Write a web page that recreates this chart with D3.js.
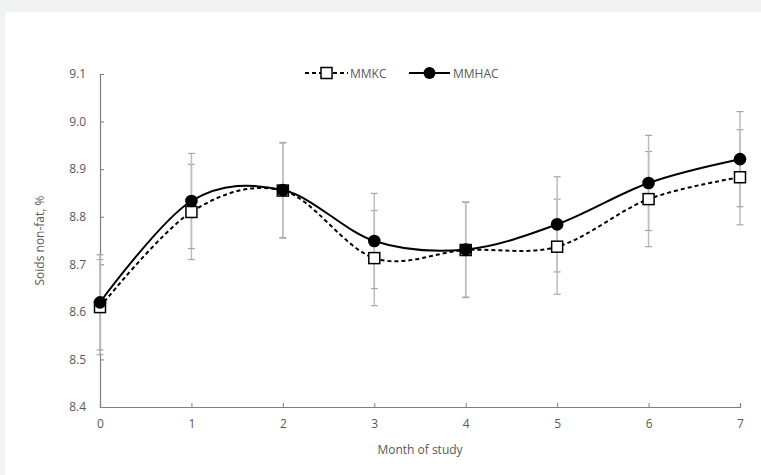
<!DOCTYPE html>
<html>
<head>
<meta charset="utf-8">
<script src="https://cdn.jsdelivr.net/npm/d3@7"></script>
<style>
  body { margin: 0; background: #f1f2f4; }
  svg { display: block; }
  text { font-family: "Open Sans", "Liberation Sans", sans-serif; fill: #595959; }
</style>
</head>
<body>
<div id="chart"></div>
<script>
// months on the x axis
var months = [0, 1, 2, 3, 4, 5, 6, 7];
// solids non-fat, %
var mmkc = [8.61, 8.81, 8.855, 8.713, 8.73, 8.737, 8.837, 8.883];
var mmhac = [8.62, 8.833, 8.856, 8.749, 8.731, 8.784, 8.871, 8.921];
// error bar half widths
var mmkcErr = [0.1, 0.1, 0.1, 0.1, 0.1, 0.1, 0.1, 0.1];
var mmhacErr = [0.1, 0.1, 0.1, 0.1, 0.1, 0.1, 0.1, 0.1];
var yTicks = [8.4, 8.5, 8.6, 8.7, 8.8, 8.9, 9.0, 9.1];

var W = 761, H = 475;
var margin = {top: 74, right: 21, bottom: 68, left: 100};

var svg = d3.select('#chart')
	.append('svg')
	.attr('width', W)
	.attr('height', H);

svg.append('rect')
	.attr('x', 0).attr('y', 0)
	.attr('width', W).attr('height', H)
	.attr('fill', '#f1f2f4');

svg.append('rect')
	.attr('x', 5).attr('y', 12)
	.attr('width', W - 5).attr('height', H - 12)
	.attr('fill', '#ffffff');

var x = d3.scaleLinear().domain([0, 7]).range([margin.left, W - margin.right]);
var y = d3.scaleLinear().domain([8.4, 9.1]).range([H - margin.bottom, margin.top]);

// axes
var xAxis = svg.append('g')
	.attr('transform', 'translate(0,' + y(8.4) + ')')
	.call(d3.axisBottom(x)
		.tickValues(months)
		.tickSize(-4)
		.tickPadding(12)
		.tickFormat(d3.format('d')));

var yAxis = svg.append('g')
	.attr('transform', 'translate(' + x(0) + ',0)')
	.call(d3.axisLeft(y)
		.tickValues(yTicks)
		.tickSize(-4)
		.tickPadding(14)
		.tickFormat(d3.format('.1f')));

[xAxis, yAxis].forEach(function(a) {
	a.select('.domain').attr('stroke', '#7f7f7f').attr('stroke-width', 1.2);
	a.selectAll('.tick line').attr('stroke', '#7f7f7f').attr('stroke-width', 1);
	a.selectAll('.tick text')
		.style('font-size', '12px')
		.attr('fill', '#595959');
});

// error bars
function drawErrors(vals, errs) {
	var g = svg.append('g');
	vals.forEach(function(v, i) {
		var cx = x(months[i]);
		g.append('line')
			.attr('x1', cx).attr('x2', cx)
			.attr('y1', y(v - errs[i])).attr('y2', y(v + errs[i]))
			.attr('stroke', '#bdbdbd').attr('stroke-width', 1.5);
		[v - errs[i], v + errs[i]].forEach(function(e) {
			g.append('line')
				.attr('x1', cx - 3.5).attr('x2', cx + 3.5)
				.attr('y1', y(e)).attr('y2', y(e))
				.attr('stroke', '#a6a6a6').attr('stroke-width', 1.2);
		});
	});
}
drawErrors(mmkc, mmkcErr);
drawErrors(mmhac, mmhacErr);

// smoothed lines
var line = d3.line()
	.x(function(d, i) { return x(months[i]); })
	.y(function(d) { return y(d); })
	.curve(d3.curveCardinal.tension(0));

svg.append('path')
	.datum(mmkc)
	.attr('d', line)
	.attr('fill', 'none')
	.attr('stroke', '#000')
	.attr('stroke-width', 2)
	.attr('stroke-dasharray', '4,3');

svg.append('path')
	.datum(mmhac)
	.attr('d', line)
	.attr('fill', 'none')
	.attr('stroke', '#000')
	.attr('stroke-width', 2);

// markers
svg.selectAll('rect.mmkc')
	.data(mmkc)
	.enter()
	.append('rect')
	.attr('class', 'mmkc')
	.attr('x', function(d, i) { return x(months[i]) - 5.5; })
	.attr('y', function(d) { return y(d) - 5.5; })
	.attr('width', 11).attr('height', 11)
	.attr('fill', '#fff')
	.attr('stroke', '#000')
	.attr('stroke-width', 1.5);

svg.selectAll('circle.mmhac')
	.data(mmhac)
	.enter()
	.append('circle')
	.attr('class', 'mmhac')
	.attr('cx', function(d, i) { return x(months[i]); })
	.attr('cy', function(d) { return y(d); })
	.attr('r', 6.3)
	.attr('fill', '#000');

// legend
var leg = svg.append('g').attr('transform', 'translate(0,73)');
leg.append('line')
	.attr('x1', 305).attr('x2', 348)
	.attr('stroke', '#000').attr('stroke-width', 2)
	.attr('stroke-dasharray', '4,3');
leg.append('rect')
	.attr('x', 321).attr('y', -5.5)
	.attr('width', 11).attr('height', 11)
	.attr('fill', '#fff').attr('stroke', '#000').attr('stroke-width', 1.5);
leg.append('text')
	.attr('x', 350).attr('y', 4.5)
	.style('font-size', '12px')
	.text('MMKC');
leg.append('line')
	.attr('x1', 409).attr('x2', 450)
	.attr('stroke', '#000').attr('stroke-width', 2);
leg.append('circle')
	.attr('cx', 429.5).attr('cy', 0).attr('r', 6)
	.attr('fill', '#000');
leg.append('text')
	.attr('x', 453).attr('y', 4.5)
	.style('font-size', '12px')
	.text('MMHAC');

// axis titles
svg.append('text')
	.attr('transform', 'translate(44,' + ((y(8.4) + y(9.1)) / 2) + ') rotate(-90)')
	.attr('text-anchor', 'middle')
	.style('font-size', '12px')
	.text('Soids non-fat, %');

svg.append('text')
	.attr('x', (x(0) + x(7)) / 2)
	.attr('y', 454)
	.attr('text-anchor', 'middle')
	.style('font-size', '12px')
	.text('Month of study');
</script>
</body>
</html>
